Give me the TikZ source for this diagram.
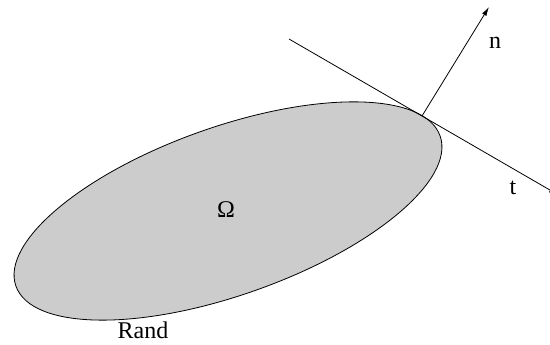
\documentclass[tikz,border=0pt]{standalone}
\usepackage{fontspec}
\setmainfont{Liberation Serif}
\usetikzlibrary{arrows.meta}
\definecolor{regiongray}{HTML}{CCCCCC}
\tikzset{
  lbl/.style={font=\fontsize{24}{28}\selectfont, inner sep=0pt},
  vec/.style={line width=0.8pt, -{Latex[length=9pt,width=5pt]}},
  plain/.style={line width=0.8pt}
}
\begin{document}
\begin{tikzpicture}[x=1pt,y=1pt]
\useasboundingbox (0,0) rectangle (550,345);
\fill[regiongray, draw=black, line width=0.8pt, rotate around={19.5:(228,134)}] (228,134) ellipse [x radius=225, y radius=84];
\coordinate (P) at (422,229);
\coordinate (Tstart) at (289,306);
\coordinate (Tend) at (558,150.3);
\coordinate (Ntip) at (489,338);
\draw[vec] (Tstart) -- (Tend);
\draw[vec] (P) -- (Ntip);
\node[lbl] (n) at (495,302) {n};
\node[lbl] (t) at (513,157) {t};
\node[lbl] (om) at (226,135) {Ω};
\node[lbl] (rand) at (143,15) {Rand};
\end{tikzpicture}
\end{document}
